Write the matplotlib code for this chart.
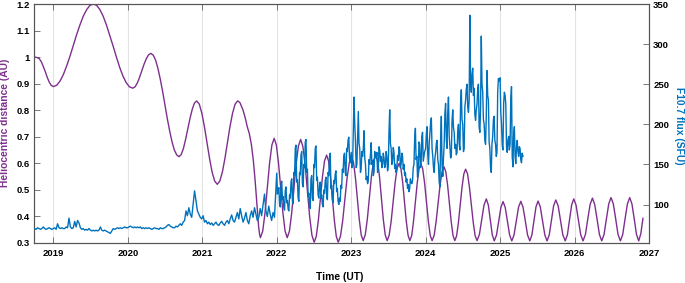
import numpy as np
import matplotlib
matplotlib.use("Agg")
import matplotlib.pyplot as plt

# ---------------- data ----------------
# Heliocentric distance (AU) (decimal year, AU)
dist_t = [
    2018.754, 2018.785,
    2018.812, 2018.839, 2018.866, 2018.893, 2018.919, 2018.946, 2018.973, 2019.000,
    2019.045, 2019.090, 2019.134, 2019.179, 2019.224, 2019.269, 2019.313, 2019.358, 2019.403, 2019.448, 2019.492, 2019.537,
    2019.581, 2019.625, 2019.669, 2019.713, 2019.757, 2019.802, 2019.846, 2019.890, 2019.934, 2019.978, 2020.022, 2020.066,
    2020.097, 2020.127, 2020.158, 2020.189, 2020.219, 2020.250, 2020.280, 2020.311,
    2020.342, 2020.374, 2020.405, 2020.436, 2020.468, 2020.499, 2020.530, 2020.562, 2020.593, 2020.624, 2020.656, 2020.687,
    2020.717, 2020.747, 2020.776, 2020.806, 2020.836, 2020.866, 2020.895, 2020.925,
    2020.960, 2020.994, 2021.029, 2021.063, 2021.098, 2021.132, 2021.167, 2021.201,
    2021.235, 2021.270, 2021.304, 2021.338, 2021.372, 2021.407, 2021.441, 2021.475,
    2021.505, 2021.547, 2021.578, 2021.604, 2021.631, 2021.660, 2021.685, 2021.710, 2021.730, 2021.757, 2021.770, 2021.781,
    2021.812, 2021.843, 2021.874, 2021.904, 2021.935, 2021.966,
    2021.995, 2022.024, 2022.054, 2022.083, 2022.112, 2022.141,
    2022.171, 2022.201, 2022.231, 2022.261, 2022.291, 2022.321,
    2022.351, 2022.382, 2022.412, 2022.442, 2022.473, 2022.503,
    2022.531, 2022.559, 2022.587, 2022.614, 2022.642, 2022.670,
    2022.696, 2022.722, 2022.748, 2022.774, 2022.800, 2022.826,
    2022.856, 2022.886, 2022.916, 2022.945, 2022.975, 2023.005,
    2023.031, 2023.057, 2023.083, 2023.109, 2023.135, 2023.161,
    2023.189, 2023.217, 2023.245, 2023.272, 2023.300, 2023.328,
    2023.354, 2023.380, 2023.406, 2023.431, 2023.457, 2023.483,
    2023.510, 2023.537, 2023.564, 2023.590, 2023.617, 2023.644,
    2023.668, 2023.692, 2023.716, 2023.740, 2023.764, 2023.788,
    2023.813, 2023.837, 2023.862, 2023.887, 2023.911, 2023.936,
    2023.961, 2023.986, 2024.012, 2024.037, 2024.062, 2024.087,
    2024.114, 2024.140, 2024.167, 2024.194, 2024.220, 2024.247,
    2024.271, 2024.295, 2024.320, 2024.344, 2024.368, 2024.392,
    2024.416, 2024.440, 2024.465, 2024.489, 2024.513, 2024.537,
    2024.563, 2024.588, 2024.614, 2024.640, 2024.665, 2024.691,
    2024.722, 2024.753, 2024.784, 2024.815,
    2024.842, 2024.869, 2024.895, 2024.922,
    2024.952, 2024.981, 2025.011, 2025.040,
    2025.069, 2025.099, 2025.128, 2025.157,
    2025.187, 2025.218, 2025.248, 2025.278,
    2025.308, 2025.339, 2025.369, 2025.399,
    2025.427, 2025.455, 2025.482, 2025.510,
    2025.540, 2025.571, 2025.601, 2025.631,
    2025.660, 2025.690, 2025.719, 2025.748,
    2025.780, 2025.812, 2025.843, 2025.875,
    2025.904, 2025.932, 2025.961, 2025.989,
    2026.020, 2026.052, 2026.083, 2026.114,
    2026.146, 2026.177, 2026.209, 2026.240,
    2026.271, 2026.303, 2026.334, 2026.365,
    2026.396, 2026.428, 2026.459, 2026.490,
    2026.521, 2026.553, 2026.584, 2026.616,
    2026.647, 2026.678, 2026.710, 2026.741,
    2026.771, 2026.802, 2026.832, 2026.862,
    2026.890, 2026.919,
]
dist_au = [
    1.000, 0.998,
    0.994, 0.982, 0.964, 0.944, 0.923, 0.905, 0.893, 0.889,
    0.894, 0.910, 0.934, 0.967, 1.004, 1.045, 1.085, 1.122, 1.155, 1.179, 1.195, 1.200,
    1.195, 1.179, 1.154, 1.121, 1.082, 1.042, 1.001, 0.962, 0.929, 0.904, 0.888, 0.883,
    0.888, 0.902, 0.924, 0.949, 0.974, 0.995, 1.009, 1.014,
    1.007, 0.988, 0.957, 0.917, 0.870, 0.820, 0.769, 0.722, 0.682, 0.651, 0.632, 0.625,
    0.633, 0.656, 0.690, 0.730, 0.770, 0.804, 0.827, 0.835,
    0.823, 0.789, 0.738, 0.678, 0.618, 0.567, 0.533, 0.521,
    0.533, 0.567, 0.618, 0.678, 0.738, 0.789, 0.823, 0.835,
    0.829, 0.801, 0.770, 0.738, 0.713, 0.670, 0.613, 0.535, 0.462, 0.361, 0.332, 0.320,
    0.345, 0.414, 0.507, 0.601, 0.669, 0.694,
    0.669, 0.601, 0.507, 0.414, 0.345, 0.320,
    0.345, 0.413, 0.505, 0.598, 0.665, 0.690,
    0.664, 0.593, 0.497, 0.400, 0.329, 0.303,
    0.325, 0.385, 0.467, 0.549, 0.609, 0.631,
    0.609, 0.549, 0.467, 0.385, 0.325, 0.303,
    0.325, 0.384, 0.464, 0.545, 0.603, 0.625,
    0.604, 0.546, 0.467, 0.388, 0.330, 0.309,
    0.331, 0.390, 0.470, 0.551, 0.609, 0.631,
    0.609, 0.551, 0.470, 0.390, 0.331, 0.309,
    0.329, 0.382, 0.455, 0.527, 0.581, 0.600,
    0.581, 0.527, 0.455, 0.382, 0.329, 0.309,
    0.328, 0.381, 0.454, 0.526, 0.579, 0.598,
    0.579, 0.526, 0.454, 0.381, 0.328, 0.309,
    0.328, 0.379, 0.448, 0.518, 0.568, 0.587,
    0.568, 0.518, 0.448, 0.379, 0.328, 0.309,
    0.327, 0.376, 0.444, 0.511, 0.560, 0.578,
    0.560, 0.511, 0.444, 0.376, 0.327, 0.309,
    0.332, 0.388, 0.443, 0.466,
    0.443, 0.387, 0.331, 0.308,
    0.330, 0.382, 0.434, 0.456,
    0.434, 0.382, 0.330, 0.308,
    0.330, 0.383, 0.435, 0.457,
    0.435, 0.383, 0.330, 0.308,
    0.330, 0.383, 0.436, 0.458,
    0.436, 0.383, 0.330, 0.308,
    0.330, 0.385, 0.440, 0.462,
    0.440, 0.385, 0.330, 0.308,
    0.331, 0.387, 0.443, 0.466,
    0.443, 0.387, 0.331, 0.308,
    0.332, 0.389, 0.445, 0.469,
    0.445, 0.389, 0.332, 0.308,
    0.332, 0.390, 0.447, 0.471,
    0.447, 0.390, 0.332, 0.308,
    0.332, 0.390, 0.447, 0.471,
    0.447, 0.390, 0.332, 0.308,
    0.335, 0.393,
]

# F10.7 flux (SFU): weekly readings 2018.75 - 2021.97
f107_early_start = 2018.75
f107_early_step = 7 / 365.25
f107_early = [
    # late 2018
    70, 69, 71, 70, 69, 70, 72, 70, 69, 70, 71, 70, 69,
    # 2019
    70, 71, 69, 76, 71, 70, 71, 70, 70, 72, 71, 83, 72, 70, 71, 79, 72, 80, 77, 71,
    69, 70, 68, 69, 68, 70, 68, 67, 68, 67, 68, 67, 68, 72, 68, 67, 68, 67, 66, 65,
    64, 67, 70, 69, 70, 71, 70, 71, 70, 71, 72, 71,
    # 2020
    71, 72, 73, 72, 71, 72, 71, 72, 71, 72, 70, 71, 70, 71, 70, 71, 70, 69, 70, 71,
    70, 70, 69, 71, 70, 70, 71, 72, 74, 75, 73, 72, 71, 71, 73, 72, 74, 76, 74, 78,
    80, 92, 86, 96, 88, 84, 100, 117, 104, 92, 88, 84,
    # 2021
    82, 86, 78, 80, 76, 78, 75, 77, 74, 76, 78, 75, 74, 77, 79, 76, 74, 78, 80, 76,
    82, 87, 80, 78, 84, 90, 82, 95, 86, 78, 83, 90, 80, 76, 86, 92, 84, 96, 88, 80,
    84, 95, 86, 100, 113, 92, 85, 98, 88, 80, 90, 84,
]

# F10.7 flux (SFU): half-weekly readings from the start of each year
f107_half_step = 3.5 / 365.25
f107_2022 = [
    139, 113, 118, 121, 100, 97, 125, 129, 106, 110, 96, 93, 118, 122, 102, 105,
    94, 92, 112, 108, 128, 132, 104, 101, 140, 136, 170, 174, 128, 131, 108, 104,
    140, 137, 162, 166, 126, 122, 150, 146, 178, 181, 140, 144, 110, 114, 98, 95,
    132, 136, 108, 105, 150, 146, 170, 173, 130, 134, 112, 108, 124, 128, 108, 112,
    100, 97, 118, 114, 130, 134, 110, 106, 140, 136, 160, 164, 120, 124, 106, 102,
    130, 126, 138, 142, 116, 120, 104, 100, 108, 104, 124, 120, 144, 140, 160, 164,
    140, 136, 170, 166, 180, 184, 158, 152,
]
f107_2023 = [
    165, 146, 150, 190, 234, 200, 180, 146, 150, 184, 216, 176, 170, 140, 145, 166,
    160, 170, 192, 158, 150, 131, 135, 126, 130, 156, 150, 162, 177, 150, 155, 136,
    140, 166, 160, 158, 165, 140, 145, 172, 168, 154, 160, 146, 150, 164, 158, 146,
    150, 166, 160, 142, 148, 190, 218, 176, 170, 150, 155, 171, 165, 145, 150, 140,
    145, 161, 155, 172, 168, 146, 150, 164, 160, 144, 150, 136, 140, 128, 132, 120,
    125, 116, 120, 132, 128, 126, 130, 146, 150, 182, 195, 156, 160, 134, 140, 178,
    175, 146, 150, 184, 190, 154, 160, 166,
]
f107_2024 = [
    170, 188, 197, 162, 150, 176, 190, 202, 208, 170, 160, 146, 140, 158, 165, 176,
    180, 156, 150, 128, 122, 178, 210, 150, 135, 158, 175, 214, 226, 180, 170, 214,
    234, 186, 172, 158, 160, 204, 218, 196, 190, 170, 175, 162, 165, 192, 200, 176,
    168, 226, 243, 206, 200, 166, 170, 222, 230, 244, 250, 222, 215, 230, 336, 252,
    240, 262, 270, 236, 245, 212, 205, 218, 225, 244, 250, 196, 190, 220, 310, 250,
    240, 206, 200, 180, 175, 210, 267, 236, 230, 178, 170, 146, 140, 176, 185, 206,
    210, 180, 175, 160, 165, 240, 257, 254,
]
f107_2025 = [
    258, 214, 200, 174, 168, 226, 240, 236, 225, 172, 165, 180, 185, 168, 175, 232,
    247, 160, 147, 186, 197, 160, 151, 172, 180, 166, 160, 172, 170, 156, 152, 164,
    160,
]

year_ticks = [2019, 2020, 2021, 2022, 2023, 2024, 2025, 2026, 2027]
year_labels = [str(y) for y in year_ticks]
au_ticks = [0.3, 0.4, 0.5, 0.6, 0.7, 0.8, 0.9, 1.0, 1.1, 1.2]
au_labels = ["0.3", "0.4", "0.5", "0.6", "0.7", "0.8", "0.9", "1", "1.1", "1.2"]
sfu_ticks = [100, 150, 200, 250, 300, 350]
sfu_labels = [str(v) for v in sfu_ticks]

# ---------------- assemble F10.7 series ----------------
f_t = [f107_early_start + np.arange(len(f107_early)) * f107_early_step]
f_v = [np.asarray(f107_early, float)]
for yr, vals in ((2022, f107_2022), (2023, f107_2023), (2024, f107_2024), (2025, f107_2025)):
    f_t.append(yr + np.arange(len(vals)) * f107_half_step)
    f_v.append(np.asarray(vals, float))
f_t = np.concatenate(f_t)
f_v = np.concatenate(f_v)

# ---------------- style ----------------
PURPLE = "#7E2F8E"
BLUE = "#0072BD"
plt.rcParams['font.family'] = ['Liberation Sans', 'DejaVu Sans']
plt.rcParams['font.weight'] = 'bold'

W, H = 685, 283
fig = plt.figure(figsize=(W / 100, H / 100), dpi=100)
L, R, T, B = 34, 649, 4, 243
ax = fig.add_axes([L / W, 1 - B / H, (R - L) / W, (B - T) / H])

ax.plot(dist_t, dist_au, color=PURPLE, lw=1.0, zorder=3)
ax2 = ax.twinx()
ax2.plot(f_t, f_v, color=BLUE, lw=1.0, zorder=3)

ax.set_xlim(2018.74, 2027.0)
ax.set_ylim(0.3, 1.2)
ax2.set_ylim(52, 350)

ax.set_xticks(year_ticks)
ax.set_xticklabels(year_labels)
ax.set_yticks(au_ticks)
ax.set_yticklabels(au_labels)
ax2.set_yticks(sfu_ticks)
ax2.set_yticklabels(sfu_labels)

ax.grid(axis='x', color='#e3e3e3', lw=0.8)
ax.set_axisbelow(True)

spine_c = '#555555'
for a in (ax, ax2):
    for s in a.spines.values():
        s.set_color(spine_c)
        s.set_linewidth(0.8)

ax.tick_params(axis='x', direction='in', top=True, bottom=True, length=4.3, width=0.7,
               color='#777777', labelsize=6.8, pad=4, labelcolor='black')
ax.tick_params(axis='y', direction='in', left=True, right=False, length=4.3, width=0.7,
               color='#777777', labelsize=6.8, pad=3, labelcolor='black')
ax2.tick_params(axis='y', direction='in', right=True, left=False, length=4.3, width=0.7,
                color='#777777', labelsize=6.8, pad=3, labelcolor='black')
for lab in ax.get_xticklabels() + ax.get_yticklabels() + ax2.get_yticklabels():
    lab.set_fontweight('bold')

fig.text(5 / W, 1 - 122.5 / H, 'Heliocentric distance (AU)', rotation=90,
         ha='center', va='center', color=PURPLE, fontsize=7.4, fontweight='bold')
fig.text(679.5 / W, 1 - 125.7 / H, 'F10.7 flux (SFU)', rotation=270,
         ha='center', va='center', color=BLUE, fontsize=7.4, fontweight='bold')
fig.text(339.3 / W, 1 - 276.7 / H, 'Time (UT)', ha='center', va='center',
         color='black', fontsize=7.4, fontweight='bold')

fig.savefig('out.png', dpi=100)
